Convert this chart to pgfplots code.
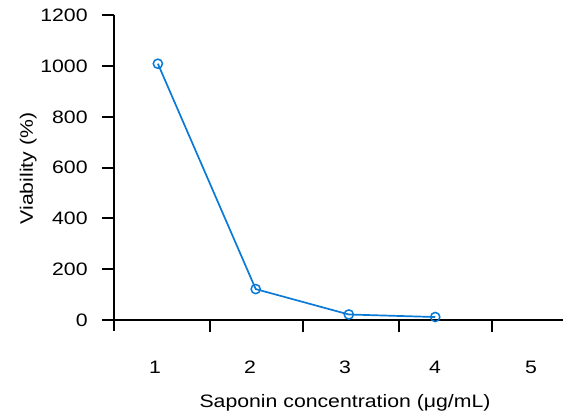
\documentclass[border=0pt]{standalone}
\usepackage{pgfplots}
\pgfplotsset{compat=1.18}
\usepackage{fontspec}
\setmainfont{Liberation Sans}
\definecolor{lineblue}{RGB}{10,122,214}
\begin{document}
\fontsize{18}{22}\selectfont
\begin{tikzpicture}
\useasboundingbox (-114pt,-81pt) rectangle (449pt,331pt);
\begin{axis}[
  at={(0pt,0pt)}, anchor=south west,
  scale only axis, width=449pt, height=315.8pt,
  xmin=0.568, xmax=5.295, ymin=-43, ymax=1200,
  axis y line=left, axis x line=middle,
  x axis line style={-, line width=2pt}, y axis line style={-, line width=2pt},
  every tick/.style={black, line width=2pt},
  tick align=outside, major tick length=12pt,
  xtick={0.568,1.579,2.555,3.568,4.544}, xticklabels={},
  extra x ticks={1,2,3,3.947,4.958},
  extra x tick labels={1,2,3,4,5},
  extra x tick style={major tick length=0pt, xticklabel style={anchor=base, yshift=-53pt}},
  ytick={0,200,400,600,800,1000,1200},
  yticklabel style={xshift=-6pt},
  /pgf/number format/assume math mode=true,
  /pgf/number format/1000 sep={},
  tick label style={font=\fontsize{18}{22}\selectfont, xscale=1.18},
  every axis x label/.style={at={(axis description cs:0.5145,-0.2438)}, anchor=base, font=\fontsize{18}{22}\selectfont, xscale=1.18},
  every axis y label/.style={at={(axis description cs:-0.1804,0.5146)}, rotate=90, anchor=base, font=\fontsize{18}{22}\selectfont, xscale=1.18},
  xlabel={Saponin concentration (μg/mL)},
  ylabel={Viability (\%)},
  clip=false,
]
\addplot[lineblue, line width=1.7pt, mark=o, mark size=4.6pt, mark options={fill=white, line width=1.5pt}]
  coordinates {(1.03,1009) (2.06,122) (3.04,22) (3.95,12)};
\end{axis}
\end{tikzpicture}
\end{document}
